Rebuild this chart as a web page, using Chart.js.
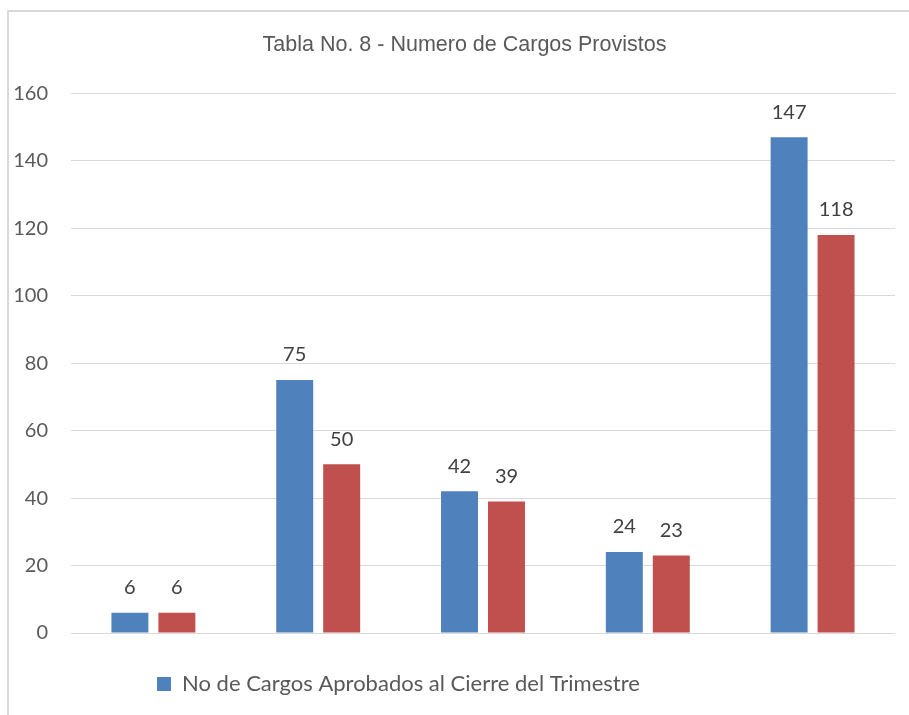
<!DOCTYPE html>
<html><head><meta charset="utf-8">
<script src="https://cdn.jsdelivr.net/npm/chart.js@4"></script>
<style>
html,body{margin:0;padding:0;overflow:hidden;background:#fff;width:909px;height:715px;}
#frame{position:absolute;left:7px;top:10px;width:1000px;height:800px;border-left:2px solid #d9d9d9;border-top:2px solid #d9d9d9;}
#c{position:absolute;left:0;top:0;}
</style></head><body>
<div id="frame"></div>
<canvas id="c" width="930" height="715"></canvas>
<script>
// ---- data ----
const categories = ['', '', '', '', ''];
const aprobados = [6, 75, 42, 24, 147];
const provistos = [6, 50, 39, 23, 118];
const yMin = 0, yMax = 160, yStep = 20;
const titleText = 'Tabla No. 8 - Numero de Cargos Provistos';
const seriesNames = ['No de Cargos Aprobados al Cierre del Trimestre', 'No de Cargos Provistos al Cierre del Trimestre'];
const seriesColors = ['#4F81BD', '#C0504D'];

const valueLabels = {
  id: 'valueLabels',
  afterDatasetsDraw(chart) {
    const ctx = chart.ctx;
    ctx.save();
    ctx.font = '20px Lato';
    ctx.fillStyle = '#404040';
    ctx.textAlign = 'center';
    ctx.textBaseline = 'middle';
    chart.data.datasets.forEach((ds, i) => {
      chart.getDatasetMeta(i).data.forEach((bar, j) => {
        ctx.fillText(String(ds.data[j]), bar.x, bar.y - 25);
      });
    });
    ctx.restore();
  }
};
const legendShift = {
  id: 'legendShift',
  afterLayout(chart) {
    if (chart.legend) { chart.legend.left = 117; }
  }
};

new Chart(document.getElementById('c'), {
  type: 'bar',
  data: {
    labels: categories,
    datasets: [
      { label: seriesNames[0], data: aprobados, backgroundColor: seriesColors[0] },
      { label: seriesNames[1], data: provistos, backgroundColor: seriesColors[1] }
    ]
  },
  options: {
    responsive: false,
    animation: false,
    categoryPercentage: 0.57,
    barPercentage: 0.787,
    layout: { padding: { left: 7, right: 8, top: 0, bottom: 10 } },
    scales: {
      x: { display: false },
      y: {
        min: yMin, max: yMax,
        ticks: { stepSize: yStep, font: { family: 'Lato', size: 20 }, color: '#595959', padding: 23 },
        grid: { color: '#d9d9d9', lineWidth: 1, drawTicks: false },
        border: { display: false },
        afterFit(s) { s.width = 64; }
      },
      y2: {
        position: 'right',
        display: true,
        min: yMin, max: yMax,
        ticks: { display: false },
        grid: { display: false, drawTicks: false },
        border: { display: false },
        afterFit(s) { s.width = 27; }
      }
    },
    plugins: {
      title: {
        display: true, text: titleText,
        font: { family: 'Liberation Sans', size: 21.5, weight: 'normal' },
        color: '#595959',
        padding: { top: 32, bottom: 35.5 }
      },
      legend: {
        position: 'bottom',
        align: 'start',
        labels: {
          filter: (item) => item.datasetIndex === 0,
          font: { family: 'Lato', size: 22 },
          color: '#595959',
          boxWidth: 14, boxHeight: 14,
          padding: 40
        }
      },
      tooltip: { enabled: false }
    }
  },
  plugins: [valueLabels, legendShift]
});
</script>
</body></html>
